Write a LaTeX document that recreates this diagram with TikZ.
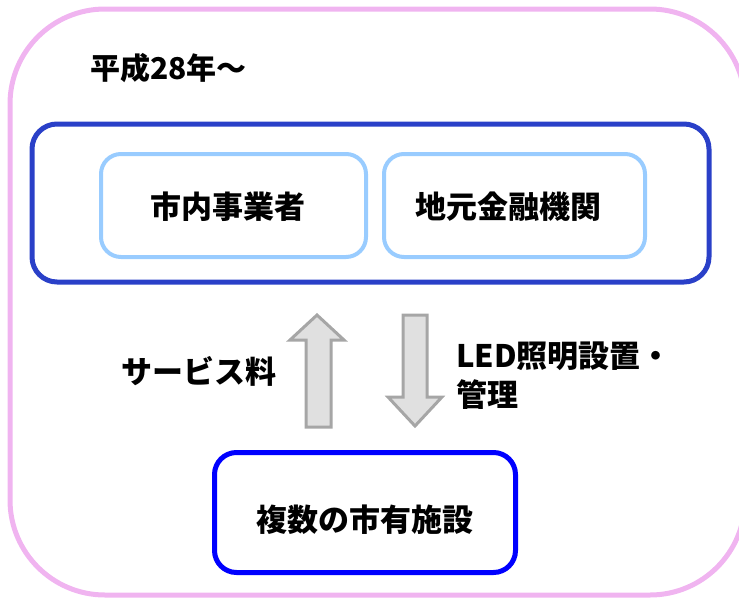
\documentclass[tikz,border=0pt]{standalone}
\usepackage{fontspec}
\setmainfont{Noto Sans CJK JP}
\definecolor{pinkline}{HTML}{F0B4F0}
\definecolor{darkblue}{HTML}{2A40C8}
\definecolor{lightblue}{HTML}{99CCFF}
\definecolor{pureblue}{HTML}{0000FF}
\definecolor{arrowfill}{HTML}{E0E0E0}
\definecolor{arrowline}{HTML}{A6A6A6}
\tikzset{
  lbl/.style={font=\fontsize{31}{39}\selectfont\bfseries, inner sep=0pt, text=black},
  toplbl/.style={font=\fontsize{30}{34}\selectfont\bfseries, inner sep=0pt, text=black},
  outerbox/.style={draw=pinkline, line width=5pt, rounded corners=95pt},
  groupbox/.style={draw=darkblue, line width=5pt, rounded corners=25pt},
  actorbox/.style={draw=lightblue, line width=4pt, rounded corners=20pt},
  facbox/.style={draw=pureblue, line width=5pt, rounded corners=22pt},
  blockarrow/.style={fill=arrowfill, draw=arrowline, line width=3pt, line join=miter},
}
\begin{document}
\begin{tikzpicture}[x=1pt, y=-1pt]
\useasboundingbox (0,0) rectangle (739,598);
\begin{scope}
\clip (0,0) rectangle (739,598);
\draw[outerbox] (10,9) rectangle (745,595);
\end{scope}
\node[toplbl, anchor=west] (year) at (90,68) {平成28年～};
\draw[groupbox] (32,124) rectangle (709,282);
\draw[actorbox] (101,154) rectangle (366,257);
\draw[actorbox] (384,154) rectangle (645,257);
\node[lbl] (biz) at (228,207) {市内事業者};
\node[lbl] (bank) at (508,207) {地元金融機関};
\draw[facbox] (214.5,452.5) rectangle (515.5,572.5);
\node[lbl] (fac) at (365,520) {複数の市有施設};
% up arrow
\draw[blockarrow] (317,315) -- (344,340) -- (331,340) -- (331,427) -- (306,427) -- (306,340) -- (290,340) -- cycle;
% down arrow
\draw[blockarrow] (403,315) -- (427,315) -- (427,397) -- (442,397) -- (415,426) -- (388,397) -- (403,397) -- cycle;
\node[lbl] (fee) at (199,371) {サービス料};
\node[lbl, anchor=west, align=left] (led) at (456,376) {LED照明設置・\\管理};
\end{tikzpicture}
\end{document}
